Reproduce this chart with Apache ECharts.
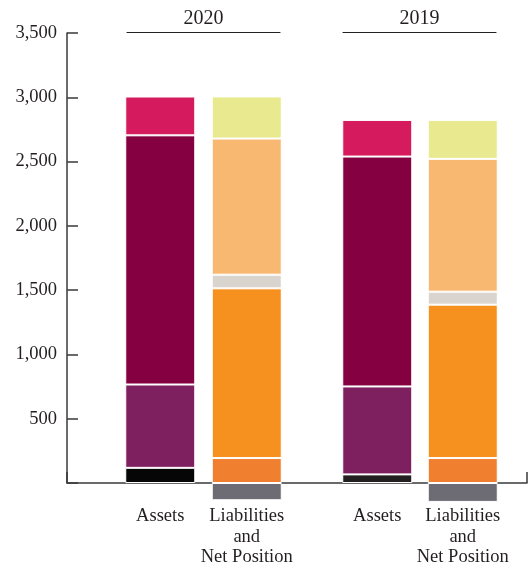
<!DOCTYPE html>
<html>
<head>
<meta charset="utf-8">
<script src="https://cdn.jsdelivr.net/npm/echarts@6/dist/echarts.min.js"></script>
<style>
html,body{margin:0;padding:0;background:#fff;}
#chart{width:530px;height:566px;}
</style>
</head>
<body>
<div id="chart"></div>
<script>
// ---- data ----
const years = ['2020', '2019'];
const categories = ['Assets', 'Liabilities\nand\nNet Position'];
const assetParts = ['Cash and investments', 'Other assets', 'Capital assets', 'Deferred outflows'];
const liabilityParts = ['Deficit', 'Current liabilities', 'Long-term liabilities', 'Deferred inflows', 'Net investment in capital assets', 'Restricted / unrestricted'];
const assets2020 = [118, 648, 1938, 302];
const liabilities2020 = [-134, 194, 1320, 106, 1059, 328];
const assets2019 = [67, 684, 1788, 285];
const liabilities2019 = [-147, 194, 1193, 101, 1033, 303];
const yTicks = [0, 500, 1000, 1500, 2000, 2500, 3000, 3500];

// ---- styles ----
const assetColors = {
  '2020': ['#060606', '#7e1f5f', '#840040', '#d51b5d'],
  '2019': ['#231f20', '#7e1f5f', '#840040', '#d51b5d']
};
const liabilityColors = ['#6d6b74', '#f07f2f', '#f6901e', '#d9d5ce', '#f9b872', '#e9ea8f'];
const FONT = 'Liberation Serif';
const TXT = '#231f20';
const AX = '#3a3a3a';

const yearData = {
  '2020': { assets: assets2020, liabilities: liabilities2020 },
  '2019': { assets: assets2019, liabilities: liabilities2019 }
};

const TOP = 33, BOTTOM = 83;
const grid = [
  { left: 67, right: 3, top: TOP, bottom: BOTTOM, outerBoundsMode: 'none' },      // axis frame
  { left: 117, width: 173, top: TOP, bottom: BOTTOM, outerBoundsMode: 'none' },   // 2020 bars
  { left: 334.5, width: 171, top: TOP, bottom: BOTTOM, outerBoundsMode: 'none' }, // 2019 bars
  { left: 127, width: 153, top: 32, height: 10, outerBoundsMode: 'none' },        // 2020 header
  { left: 343, width: 153, top: 32, height: 10, outerBoundsMode: 'none' }         // 2019 header
];

const xAxis = [
  { gridIndex: 0, type: 'value', min: 0, max: 1, interval: 1,
    axisLine: { show: true, lineStyle: { color: AX, width: 1.5 } },
    axisTick: { show: true, inside: true, length: 11, lineStyle: { color: AX, width: 1.5 } },
    axisLabel: { show: false }, splitLine: { show: false } }
];
const yAxis = [
  { gridIndex: 0, type: 'value', min: yTicks[0], max: yTicks[yTicks.length - 1], interval: 500,
    axisLine: { show: true, lineStyle: { color: AX, width: 1.5 } },
    axisTick: { show: true, inside: true, length: 11, lineStyle: { color: AX, width: 1.5 } },
    splitLine: { show: false },
    axisLabel: { margin: 10, color: TXT, fontFamily: FONT, fontSize: 18.5,
      formatter: v => v <= 0 ? '' : v.toLocaleString('en-US') } }
];
years.forEach((y, gi) => {
  xAxis.push({ gridIndex: gi + 1, type: 'category', data: categories,
    axisLine: { show: false }, axisTick: { show: false },
    axisLabel: { margin: 23, color: TXT, fontFamily: FONT, fontSize: 18.5, lineHeight: 20.5, interval: 0 } });
  yAxis.push({ gridIndex: gi + 1, type: 'value', min: 0, max: 3500, show: false });
});
years.forEach((y, gi) => {
  xAxis.push({ gridIndex: gi + 3, type: 'category', data: [y], position: 'top',
    axisLine: { show: true, onZero: false, lineStyle: { color: '#222', width: 1.2 } },
    axisTick: { show: false }, axisLabel: { show: false },
    name: y, nameLocation: 'middle', nameGap: 3,
    nameTextStyle: { color: TXT, fontFamily: FONT, fontSize: 20 } });
  yAxis.push({ gridIndex: gi + 3, type: 'value', min: 0, max: 1, show: false });
});

const series = [];
years.forEach((y, gi) => {
  const d = yearData[y];
  d.assets.forEach((v, i) => {
    series.push({ type: 'bar', name: y + ' ' + assetParts[i], xAxisIndex: gi + 1, yAxisIndex: gi + 1,
      stack: 'y' + y, barWidth: 70, clip: false, data: [v, '-'],
      itemStyle: { color: assetColors[y][i], borderColor: '#fff', borderWidth: 1 } });
  });
  d.liabilities.forEach((v, i) => {
    series.push({ type: 'bar', name: y + ' ' + liabilityParts[i], xAxisIndex: gi + 1, yAxisIndex: gi + 1,
      stack: 'y' + y, barWidth: 70, clip: false, data: ['-', v],
      itemStyle: { color: liabilityColors[i], borderColor: '#fff', borderWidth: 1 } });
  });
});

const chart = echarts.init(document.getElementById('chart'), null, { renderer: 'canvas' });
chart.setOption({ animation: false, backgroundColor: '#fff', grid, xAxis, yAxis, series });
</script>
</body>
</html>
